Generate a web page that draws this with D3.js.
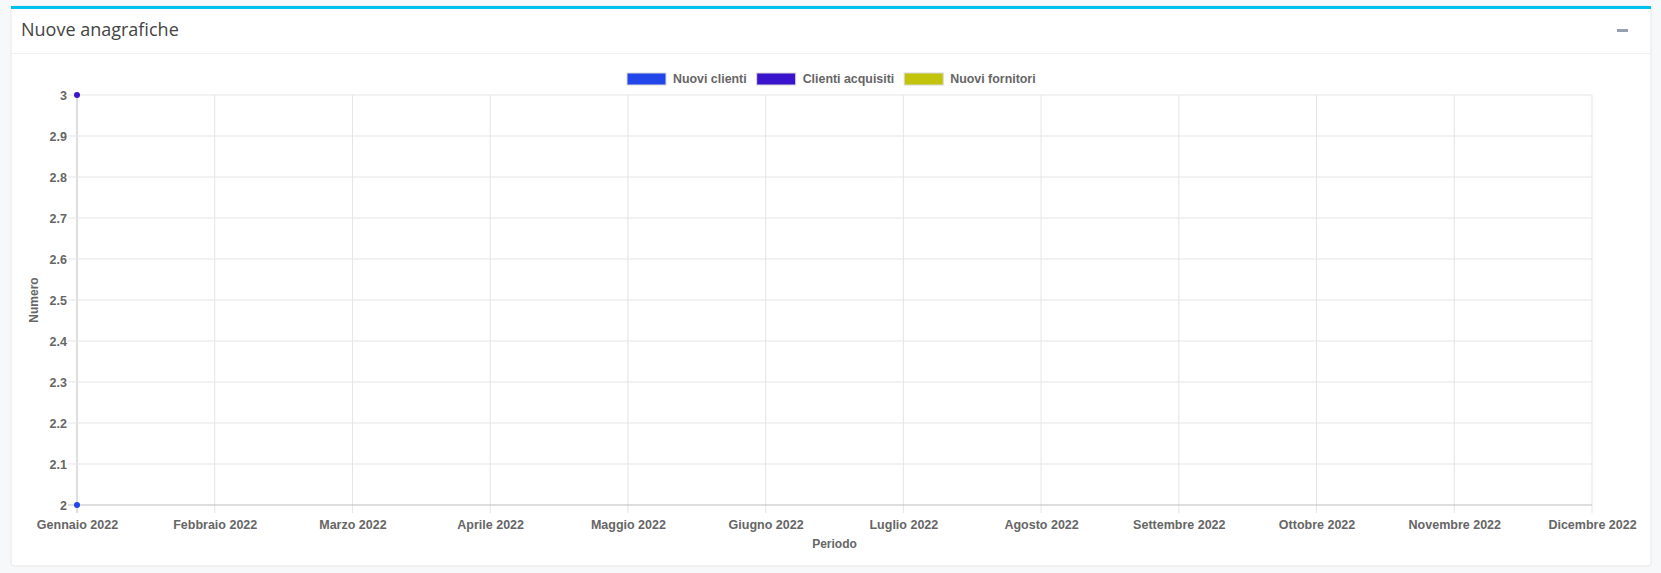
<!DOCTYPE html>
<html>
<head>
<meta charset="utf-8">
<script src="https://cdn.jsdelivr.net/npm/d3@7"></script>
<style>
  body { margin: 0; background: #f7f8fa; }
  svg { display: block; }
  .tick text { font-family: "Liberation Sans", Arial, sans-serif; font-weight: bold; font-size: 12.5px; fill: #666; }
</style>
</head>
<body>
<svg id="chart" width="1661" height="573"></svg>
<script>
// chart data
const TITLE = "Nuove anagrafiche";
const months = ["Gennaio 2022", "Febbraio 2022", "Marzo 2022", "Aprile 2022", "Maggio 2022", "Giugno 2022",
  "Luglio 2022", "Agosto 2022", "Settembre 2022", "Ottobre 2022", "Novembre 2022", "Dicembre 2022"];
const seriesNames = ["Nuovi clienti", "Clienti acquisiti", "Nuovi fornitori"];
const seriesColors = ["#2346ea", "#3a14cc", "#c2c40c"];
const nuoviClienti = [2];
const clientiAcquisiti = [3];
const nuoviFornitori = [];
const yTicks = [2, 2.1, 2.2, 2.3, 2.4, 2.5, 2.6, 2.7, 2.8, 2.9, 3];

const svg = d3.select("#chart");

// panel (box)
svg.append("rect").attr("x", 11).attr("y", 6).attr("width", 1640).attr("height", 560)
  .attr("rx", 3).attr("fill", "#fff").attr("stroke", "#e6e6e6");
svg.append("rect").attr("x", 11).attr("y", 6).attr("width", 1640).attr("height", 3)
  .attr("fill", "#00c0ef");
svg.append("line").attr("x1", 11).attr("x2", 1651).attr("y1", 53.5).attr("y2", 53.5)
  .attr("stroke", "#f0f0f0");
svg.append("text").attr("x", 21).attr("y", 36).text(TITLE)
  .attr("font-family", "'Open Sans', 'Noto Sans', sans-serif").attr("font-size", 18).attr("fill", "#444");
svg.append("rect").attr("x", 1617).attr("y", 29).attr("width", 11).attr("height", 3).attr("fill", "#97a0b3");

// scales
const x = d3.scalePoint().domain(months).range([77, 1592]);
const y = d3.scaleLinear().domain([2, 3]).range([505, 95]);

// grid
const g = svg.append("g");
g.selectAll(".vg").data(months).join("line")
  .attr("x1", d => x(d)).attr("x2", d => x(d)).attr("y1", y(3)).attr("y2", y(2) + 8)
  .attr("stroke", (d, i) => i === 0 ? "#bdbdbd" : "#e5e5e5");
g.selectAll(".hg").data(yTicks).join("line")
  .attr("x1", 68).attr("x2", 1592).attr("y1", d => y(d)).attr("y2", d => y(d))
  .attr("stroke", (d, i) => i === 0 ? "#bdbdbd" : "#e5e5e5");

// axes (labels only; grid lines drawn above)
const xAxis = svg.append("g").attr("transform", `translate(0,${y(2)})`)
  .call(d3.axisBottom(x).tickSize(0).tickPadding(15));
xAxis.select(".domain").remove();
const yAxis = svg.append("g").attr("transform", "translate(77,0)")
  .call(d3.axisLeft(y).tickValues(yTicks).tickFormat(d3.format("")).tickSize(0).tickPadding(10));
yAxis.select(".domain").remove();

// axis titles
svg.append("text").attr("transform", "translate(34,300) rotate(-90)").attr("text-anchor", "middle")
  .attr("dy", "0.35em").text("Numero")
  .attr("font-family", "'Liberation Sans', Arial, sans-serif").attr("font-weight", "bold")
  .attr("font-size", 12).attr("fill", "#666");
svg.append("text").attr("x", x(months[5]) + (x(months[6]) - x(months[5])) / 2).attr("y", 548)
  .attr("text-anchor", "middle").text("Periodo")
  .attr("font-family", "'Liberation Sans', Arial, sans-serif").attr("font-weight", "bold")
  .attr("font-size", 12).attr("fill", "#666");

// legend
const legend = svg.append("g");
let lx = 627;
seriesNames.forEach(function(name, i) {
  legend.append("rect").attr("x", lx).attr("y", 73).attr("width", 39).attr("height", 12)
    .attr("fill", seriesColors[i]).attr("stroke", "#d8d8d8");
  let t = legend.append("text").attr("x", lx + 46).attr("y", 79).attr("dy", "0.35em").text(name)
    .attr("font-family", "'Liberation Sans', Arial, sans-serif").attr("font-weight", "bold")
    .attr("font-size", 12.4).attr("fill", "#666");
  lx += 46 + t.node().getComputedTextLength() + 10;
});

// points, last series drawn first
const series = [nuoviClienti, clientiAcquisiti, nuoviFornitori];
for (let s = series.length - 1; s >= 0; s -= 1) {
  svg.append("g").selectAll("circle").data(series[s]).join("circle")
    .attr("cx", (d, i) => x(months[i])).attr("cy", d => y(d)).attr("r", 3)
    .attr("fill", seriesColors[s]);
}
</script>
</body>
</html>
